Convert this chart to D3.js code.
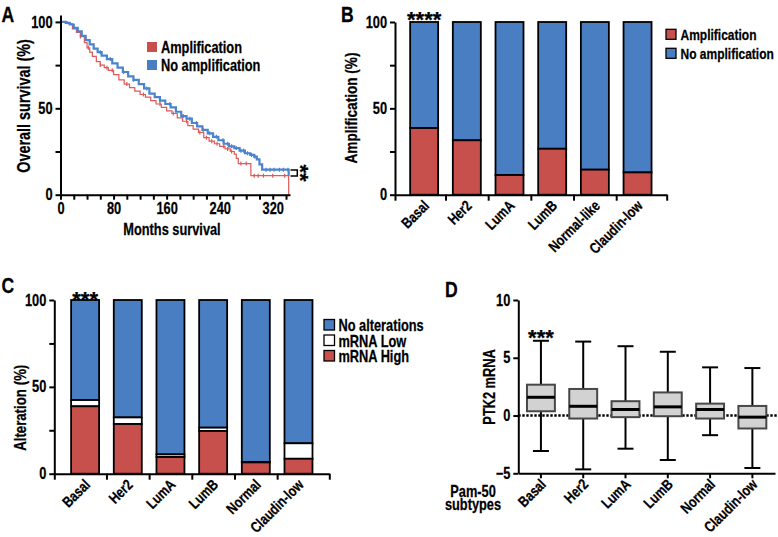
<!DOCTYPE html>
<html>
<head>
<meta charset="utf-8">
<script src="https://cdn.jsdelivr.net/npm/d3@7"></script>
<style>
  body { margin: 0; background: #fff; }
  svg text { font-family: "Liberation Sans", Arial, sans-serif; font-weight: bold; fill: #000; stroke: #000; stroke-width: 0.25; }
</style>
</head>
<body>
<svg id="fig" width="778" height="537"></svg>
<script>
// ---- data ----
// A: Kaplan-Meier, overall survival (%) by months
const kmNoAmpMonths = [0, 8, 14, 20, 26, 32, 38, 44, 50, 56, 62, 70, 78, 86, 94, 102, 110, 118, 126, 134, 142, 150, 158, 166, 174, 182, 190, 198, 206, 214, 222, 230, 238, 246, 254, 262, 270, 278, 286, 292, 296, 300, 304, 344];
const kmNoAmpSurv   = [100, 99.5, 98.5, 96.5, 94.5, 92, 89.5, 87, 84.5, 82.5, 80.5, 78.5, 76, 73.5, 71, 68.5, 66.5, 64, 61.5, 58.5, 56.5, 54.5, 52.5, 50.5, 48, 45.5, 44, 41.5, 39.5, 37.5, 35.5, 33.5, 31.5, 29.5, 28, 27, 25.5, 24, 23, 22, 20.5, 17.5, 14.5, 11];
const kmAmpMonths = [0, 10, 18, 24, 30, 36, 40, 44, 48, 54, 60, 66, 72, 80, 88, 96, 104, 112, 120, 128, 136, 144, 152, 160, 168, 176, 184, 192, 200, 208, 216, 224, 232, 240, 248, 256, 262, 265, 268, 287, 344];
const kmAmpSurv   = [100, 99, 96, 94, 91.5, 88, 85, 82.5, 80, 77, 75, 73.5, 72, 69.5, 66.5, 64, 62, 60, 58, 56.5, 54.5, 52.5, 50.5, 48.5, 47, 44.5, 42.5, 40, 38, 36, 33, 31, 29.5, 28, 26.5, 25, 23.5, 21, 18, 11, 0];
const censorNoAmp = [60, 75, 95, 110, 130, 150, 165, 185, 195, 205, 215, 225, 235, 245, 252, 258, 265, 272, 276, 282, 288, 293, 310, 316, 322, 330, 336, 343];
const censorAmp   = [30, 42, 60, 70, 78, 100, 125, 150, 170, 190, 210, 220, 228, 236, 246, 252, 258, 272, 280, 292, 298, 306, 320, 338];

// B: amplification by PAM50 subtype (%)
const subtypesB = ['Basal', 'Her2', 'LumA', 'LumB', 'Normal-like', 'Claudin-low'];
const ampPct = [38.6, 31.5, 11.4, 26.6, 14.5, 12.9];

// C: alteration by subtype (%)
const subtypesC = ['Basal', 'Her2', 'LumA', 'LumB', 'Normal', 'Claudin-low'];
const mrnaHighPct = [38.8, 28.6, 9.6, 24.6, 6.5, 8.6];
const mrnaLowPct  = [3.6, 3.8, 1.5, 1.9, 0.3, 8.9];

// D: PTK2 mRNA box plots
const subtypesD = ['Basal', 'Her2', 'LumA', 'LumB', 'Normal', 'Claudin-low'];
const whiskerLow  = [-3.07, -4.66, -2.87, -3.85, -1.70, -4.54];
const quart1      = [0.37, -0.26, -0.14, -0.06, -0.26, -1.12];
const medians     = [1.58, 0.80, 0.52, 0.75, 0.52, -0.14];
const quart3      = [2.67, 2.30, 1.24, 2.00, 1.03, 0.83];
const whiskerHigh = [6.47, 6.40, 6.00, 5.52, 4.17, 4.11];

const RED = '#c8504c';
const BLUE = '#4a7ec2';
const SX = 0.8; // text looks condensed in the figure

const svg = d3.select('#fig');

function txt(parent, x, y, s, size, anchor, rot) {
  return parent.append('text')
    .attr('transform', `translate(${x},${y}) rotate(${rot || 0}) scale(${SX},1)`)
    .attr('text-anchor', anchor || 'start')
    .attr('font-size', size)
    .text(s);
}

function stars(x, y, s, size, rot) {
  svg.append('text')
    .attr('transform', `translate(${x},${y}) rotate(${rot || 0})`)
    .attr('text-anchor', 'middle')
    .attr('font-size', size || 22)
    .text(s);
}

function styleAxis(g, size) {
  g.select('.domain').attr('stroke', '#000').attr('stroke-width', 2);
  g.selectAll('.tick line').attr('stroke', '#000').attr('stroke-width', 2);
  g.selectAll('.tick text').each(function () {
    const t = d3.select(this);
    const x = +t.attr('x') || 0, y = +t.attr('y') || 0;
    t.attr('x', null).attr('y', null)
      .attr('font-size', size || 16)
      .attr('transform', `translate(${x},${y}) scale(${SX},1)`);
  });
}

// ---------------- Panel A ----------------
const xA = d3.scaleLinear([0, 346], [60.5, 290]);
const yA = d3.scaleLinear([0, 104], [194.7, 15]);

const kmLine = d3.line()
  .x(d => xA(d[0]))
  .y(d => yA(d[1]))
  .curve(d3.curveStepAfter);

function stepAt(months, surv, t) {
  let v = surv[0];
  months.forEach((m, i) => { if (m <= t) v = surv[i]; });
  return v;
}

function drawKM(months, surv, censor, color, w) {
  svg.append('path')
    .datum(d3.zip(months, surv))
    .attr('d', kmLine)
    .attr('fill', 'none')
    .attr('stroke', color)
    .attr('stroke-width', w);
  svg.append('g').selectAll('line')
    .data(censor)
    .enter().append('line')
      .attr('x1', d => xA(d)).attr('x2', d => xA(d))
      .attr('y1', d => yA(stepAt(months, surv, d)) - 2)
      .attr('y2', d => yA(stepAt(months, surv, d)) + 2)
      .attr('stroke', color)
      .attr('stroke-width', 1.2);
}

drawKM(kmAmpMonths, kmAmpSurv, censorAmp, '#dd5a57', 1.2);
drawKM(kmNoAmpMonths, kmNoAmpSurv, censorNoAmp, '#4b84cc', 2.2);

svg.append('g')
  .attr('transform', 'translate(0,194.7)')
  .call(d3.axisBottom(xA).tickValues(d3.range(0, 341, 20))
    .tickFormat(d => (d % 80 === 0 ? d : '')).tickSize(5).tickSizeOuter(0).tickPadding(3))
  .call(g => styleAxis(g));

svg.append('g')
  .attr('transform', 'translate(60.5,0)')
  .call(d3.axisLeft(yA).tickValues([0, 25, 50, 75, 100])
    .tickFormat(d => (d % 50 === 0 ? d : '')).tickSize(5).tickSizeOuter(0).tickPadding(3))
  .call(g => styleAxis(g));

// significance bracket
svg.append('path')
  .attr('d', 'M290.5,170 H297.3 V176 H290.5')
  .attr('fill', 'none').attr('stroke', '#000').attr('stroke-width', 1.5);
stars(293, 173, '**', 22, 90);

txt(svg, 172, 235, 'Months survival', 16, 'middle');
txt(svg, 30, 106, 'Overall survival (%)', 18, 'middle', -90);

svg.append('rect').attr('x', 147).attr('y', 42).attr('width', 10).attr('height', 10).attr('fill', RED);
svg.append('rect').attr('x', 147).attr('y', 60).attr('width', 10).attr('height', 10).attr('fill', BLUE);
txt(svg, 161, 52.5, 'Amplification', 16);
txt(svg, 161, 70.5, 'No amplification', 16);

txt(svg, 1.5, 22, 'A', 22);

// ---------------- stacked bar helper ----------------
function boundaryAxis(x, y, x0, x1, band) {
  const pos = [x0].concat(band.domain().slice(0, -1).map(c => band(c) + band.bandwidth() + (band.step() - band.bandwidth()) / 2), [x1]);
  const lin = d3.scaleLinear([x0, x1], [x0, x1]);
  svg.append('g')
    .attr('transform', `translate(0,${y})`)
    .call(d3.axisBottom(lin).tickValues(pos).tickFormat('').tickSize(6).tickSizeOuter(0))
    .call(g => styleAxis(g));
}

function catLabels(band, names, axisY) {
  names.forEach(c => {
    txt(svg, band(c) + band.bandwidth() / 2 + 6, axisY + 12, c, 15, 'end', -45);
  });
}

// ---------------- Panel B ----------------
const xB = d3.scaleBand(subtypesB, [395, 666.7]).paddingInner(0.344).paddingOuter(0.355);
const yB = d3.scaleLinear([0, 100], [194.7, 22]);

subtypesB.forEach((c, i) => {
  svg.append('rect')
    .attr('x', xB(c)).attr('width', xB.bandwidth())
    .attr('y', yB(100)).attr('height', yB(ampPct[i]) - yB(100))
    .attr('fill', BLUE).attr('stroke', '#000').attr('stroke-width', 1.8);
  svg.append('rect')
    .attr('x', xB(c)).attr('width', xB.bandwidth())
    .attr('y', yB(ampPct[i])).attr('height', yB(0) - yB(ampPct[i]))
    .attr('fill', RED).attr('stroke', '#000').attr('stroke-width', 1.8);
});

svg.append('g')
  .attr('transform', 'translate(395,0)')
  .call(d3.axisLeft(yB).tickValues([0, 25, 50, 75, 100])
    .tickFormat(d => (d % 50 === 0 ? d : '')).tickSize(5).tickSizeOuter(0).tickPadding(3))
  .call(g => styleAxis(g));
boundaryAxis(xB, 194.7, 395, 666.7, xB);
catLabels(xB, subtypesB, 194.7);

stars(xB('Basal') + xB.bandwidth() / 2, 27, '****', 22);

txt(svg, 357, 108, 'Amplification (%)', 17, 'middle', -90);

svg.append('rect').attr('x', 666).attr('y', 29.3).attr('width', 10).attr('height', 10)
  .attr('fill', RED).attr('stroke', '#000').attr('stroke-width', 1.3);
svg.append('rect').attr('x', 666).attr('y', 48.3).attr('width', 10).attr('height', 10)
  .attr('fill', BLUE).attr('stroke', '#000').attr('stroke-width', 1.3);
txt(svg, 680.5, 40, 'Amplification', 15);
txt(svg, 680.5, 59, 'No amplification', 15);

txt(svg, 341, 22, 'B', 22);

// ---------------- Panel C ----------------
const xC = d3.scaleBand(subtypesC, [54.3, 329.3]).paddingInner(0.344).paddingOuter(0.394);
const yC = d3.scaleLinear([0, 100], [473.7, 300]);

subtypesC.forEach((c, i) => {
  const hi = mrnaHighPct[i], lo = hi + mrnaLowPct[i];
  const segs = [[lo, 100, BLUE], [hi, lo, '#fff'], [0, hi, RED]];
  segs.forEach(s => {
    svg.append('rect')
      .attr('x', xC(c)).attr('width', xC.bandwidth())
      .attr('y', yC(s[1])).attr('height', yC(s[0]) - yC(s[1]))
      .attr('fill', s[2]).attr('stroke', '#000').attr('stroke-width', 1.8);
  });
});

svg.append('g')
  .attr('transform', 'translate(54.3,0)')
  .call(d3.axisLeft(yC).tickValues([0, 25, 50, 75, 100])
    .tickFormat(d => (d % 50 === 0 ? d : '')).tickSize(5).tickSizeOuter(0).tickPadding(3))
  .call(g => styleAxis(g));
boundaryAxis(xC, 473.7, 54.3, 329.3, xC);
catLabels(xC, subtypesC, 473.7);

stars(xC('Basal') + xC.bandwidth() / 2, 306.5, '***', 22);

txt(svg, 26, 420, 'Alteration', 16.5, 'middle', -90);
txt(svg, 26, 375, '(%)', 16.5, 'middle', -90);

const legC = [['No alterations', BLUE], ['mRNA Low', '#fff'], ['mRNA High', RED]];
legC.forEach((d, i) => {
  svg.append('rect').attr('x', 324).attr('y', 319.5 + i * 15.5).attr('width', 10.5).attr('height', 10.5)
    .attr('fill', d[1]).attr('stroke', '#000').attr('stroke-width', 1.3);
  txt(svg, 338.5, 331 + i * 15.5, d[0], 16);
});

txt(svg, 1.5, 293, 'C', 22);

// ---------------- Panel D ----------------
const xD = d3.scaleBand(subtypesD, [518.3, 775]).paddingInner(0.34).paddingOuter(0.205);
const yD = d3.scaleLinear([-5, 10], [473.3, 300]);

svg.append('line')
  .attr('x1', 518.3).attr('x2', 777).attr('y1', yD(0)).attr('y2', yD(0))
  .attr('stroke', '#000').attr('stroke-width', 2.6).attr('stroke-dasharray', '2.4 1.6');

subtypesD.forEach((c, i) => {
  const cx = xD(c) + xD.bandwidth() / 2;
  const bw = xD.bandwidth();
  const g = svg.append('g');
  g.append('line').attr('x1', cx).attr('x2', cx).attr('y1', yD(whiskerLow[i])).attr('y2', yD(whiskerHigh[i]))
    .attr('stroke', '#000').attr('stroke-width', 2);
  [whiskerLow[i], whiskerHigh[i]].forEach(v => {
    g.append('line').attr('x1', cx - 8).attr('x2', cx + 8).attr('y1', yD(v)).attr('y2', yD(v))
      .attr('stroke', '#000').attr('stroke-width', 2);
  });
  g.append('rect').attr('x', cx - bw / 2).attr('width', bw)
    .attr('y', yD(quart3[i])).attr('height', yD(quart1[i]) - yD(quart3[i]))
    .attr('fill', '#d2d2d2').attr('stroke', '#474747').attr('stroke-width', 2);
  g.append('line').attr('x1', cx - bw / 2).attr('x2', cx + bw / 2).attr('y1', yD(medians[i])).attr('y2', yD(medians[i]))
    .attr('stroke', '#000').attr('stroke-width', 3);
});

svg.append('g')
  .attr('transform', 'translate(518.3,0)')
  .call(d3.axisLeft(yD).tickValues([-5, 0, 5, 10]).tickSize(5).tickSizeOuter(0).tickPadding(3))
  .call(g => styleAxis(g));
svg.append('g')
  .attr('transform', 'translate(0,473.3)')
  .call(d3.axisBottom(xD).tickFormat('').tickSize(5).tickSizeOuter(0))
  .call(g => styleAxis(g));
catLabels(xD, subtypesD, 473.3);

stars(xD('Basal') + xD.bandwidth() / 2, 344.5, '***', 22);

txt(svg, 495, 387, 'PTK2 mRNA', 16, 'middle', -90);
txt(svg, 473, 497, 'Pam-50', 16, 'middle');
txt(svg, 473, 510, 'subtypes', 16, 'middle');

txt(svg, 445, 297, 'D', 22);
</script>
</body>
</html>
